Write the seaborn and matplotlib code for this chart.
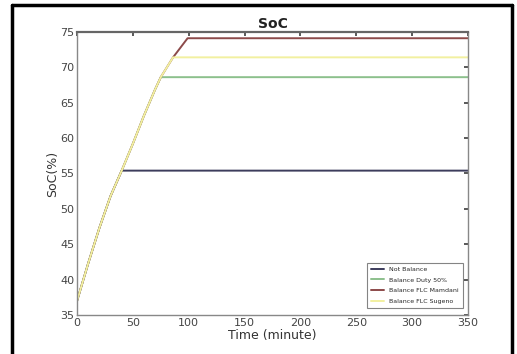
import pandas as pd
import matplotlib.pyplot as plt
import seaborn as sns
from matplotlib.lines import Line2D

# shared charging curve, each series stops rising at its own level
time_rise = [0, 10, 20, 30, 40, 50, 60, 70, 75, 86, 99]
soc_rise = [37.0, 42.3, 47.3, 51.8, 55.4, 59.2, 63.2, 66.9, 68.6, 71.4, 74.1]
t_end = 350

series_names = ['Not Balance', 'Balance Duty 50%', 'Balance FLC Mamdani', 'Balance FLC Sugeno']
stop_index = [4, 8, 10, 9]          # point where each series goes flat
series_colors = ['#3c3c5c', '#8cc08c', '#8c4a4a', '#f2f0a0']

x_ticks = [0, 50, 100, 150, 200, 250, 300, 350]
y_ticks = [35, 40, 45, 50, 55, 60, 65, 70, 75]

rows = []
for name, k in zip(series_names, stop_index):
    ts = time_rise[:k + 1] + [t_end]
    vs = soc_rise[:k + 1] + [soc_rise[k]]
    for t, v in zip(ts, vs):
        rows.append({'Time': t, 'SoC': v, 'Series': name})
df = pd.DataFrame(rows)

sns.set_theme(style="white")
plt.rcParams['font.family'] = ['DejaVu Sans']

fig = plt.figure(figsize=(5.17, 3.54), dpi=100)
ax = fig.add_axes([0.149, 0.110, 0.756, 0.800])

# draw in matlab order so later series sit on top
for name, col in zip(series_names, series_colors):
    sns.lineplot(data=df[df['Series'] == name], x='Time', y='SoC', color=col,
                 linewidth=1.4, ax=ax, label=name, sort=False)

ax.set_xlim(0, 350)
ax.set_ylim(35, 75)
ax.set_xticks(x_ticks)
ax.set_yticks(y_ticks)
ax.tick_params(direction='in', length=3, top=True, right=True, labelsize=8,
               colors='#444444', pad=2)
for s in ax.spines.values():
    s.set_color('#888888')
    s.set_linewidth(1.0)
ax.spines['top'].set_color('#666666')
ax.spines['top'].set_linewidth(1.6)

ax.set_title('SoC', fontsize=10, fontweight='bold', color='#222222', pad=3)
ax.set_xlabel('Time (minute)', fontsize=9, color='#333333', labelpad=1)
ax.set_ylabel('SoC(%)', fontsize=9, color='#333333', labelpad=1)

leg = ax.legend(loc='lower right', fontsize=4.5, frameon=True, fancybox=False,
                handlelength=2.2, borderpad=0.6, labelspacing=0.85,
                bbox_to_anchor=(0.995, 0.015))
leg.get_frame().set_edgecolor('#666666')
leg.get_frame().set_linewidth(0.8)

# black frame around the picture (top, left, right)
fig.add_artist(Line2D([12 / 517, 12 / 517], [0, 1 - 5 / 354], color='black', lw=2.5,
                      transform=fig.transFigure))
fig.add_artist(Line2D([12 / 517, 512 / 517], [1 - 5 / 354, 1 - 5 / 354], color='black', lw=2.5,
                      transform=fig.transFigure))
fig.add_artist(Line2D([512 / 517, 512 / 517], [0, 1 - 5 / 354], color='black', lw=2.5,
                      transform=fig.transFigure))

fig.savefig('out.png', dpi=100)
